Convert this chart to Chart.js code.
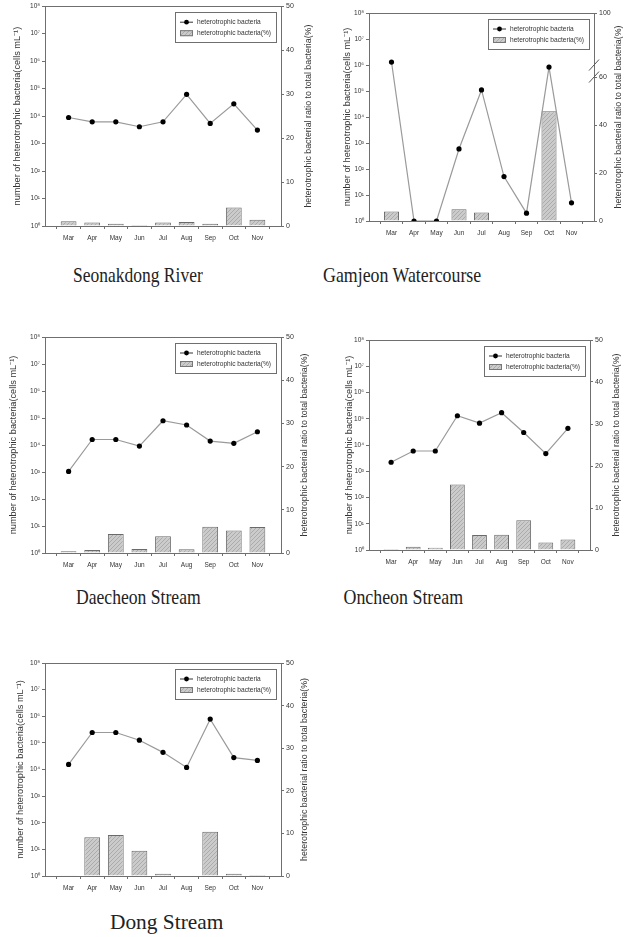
<!DOCTYPE html>
<html>
<head>
<meta charset="utf-8">
<script src="https://cdn.jsdelivr.net/npm/chart.js@4.4.0/dist/chart.umd.min.js"></script>
<style>
body { margin: 0; background: #fff; }
#page { position: relative; width: 628px; height: 937px; overflow: hidden; }
canvas { position: absolute; }
.cap { position: absolute; font-family: 'Liberation Serif', 'Times New Roman', serif; font-size: 21px; line-height: 21px; color: #222; white-space: nowrap; transform-origin: center; }
</style>
</head>
<body>
<div id="page"></div>
<script>
const months = ['Mar', 'Apr', 'May', 'Jun', 'Jul', 'Aug', 'Sep', 'Oct', 'Nov'];
const countLabel = 'heterotrophic bacteria';
const ratioLabel = 'heterotrophic bacteria(%)';
const leftTitle = 'number of heterotrophic bacteria(cells mL\u207B\u00B9)';
const rightTitle = 'heterotrophic bacterial ratio to total bacteria(%)';
const countTickExps = [0, 1, 2, 3, 4, 5, 6, 7, 8];
const ratioTicks = [0, 10, 20, 30, 40, 50];
const gamjeonRatioTicks = [0, 20, 40, 60, 100];
const siteNames = ['Seonakdong River', 'Gamjeon Watercourse', 'Daecheon Stream', 'Oncheon Stream', 'Dong Stream'];

// cells per mL (log axis) and % of total bacteria (bars)
const seonakdongCount = [8.9e3, 6.2e3, 6.2e3, 4.1e3, 6.2e3, 6.2e4, 5.4e3, 2.8e4, 3.1e3];
const seonakdongRatio = [1.1, 0.8, 0.5, 0.2, 0.8, 0.9, 0.5, 4.2, 1.4];
const gamjeonCount = [1.3e6, 1, 1, 5.9e2, 1.1e5, 51, 2, 8.3e5, 5];
const gamjeonRatio = [4.0, 0, 0, 4.9, 3.6, 0, 0, 45.9, 0];
const daecheonCount = [1.05e3, 1.6e4, 1.6e4, 9.1e3, 7.9e4, 5.5e4, 1.4e4, 1.15e4, 3.1e4];
const daecheonRatio = [0.4, 0.7, 4.4, 0.9, 3.9, 0.85, 6.1, 5.2, 6.0];
const oncheonCount = [2.2e3, 5.9e3, 5.9e3, 1.3e5, 6.8e4, 1.7e5, 3.0e4, 4.7e3, 4.3e4];
const oncheonRatio = [0.25, 0.8, 0.55, 15.6, 3.6, 3.65, 7.1, 1.8, 2.5];
const dongCount = [1.55e4, 2.45e5, 2.45e5, 1.26e5, 4.4e4, 1.2e4, 7.8e5, 2.8e4, 2.2e4];
const dongRatio = [0.2, 9.1, 9.6, 5.9, 0.5, 0, 10.4, 0.5, 0.25];

// broken right axis of the Gamjeon panel: 60..100 squeezed
const BREAK_AT = 60, BREAK_TOP = 100, BREAK_DRAWN = 87;
function squeeze(v) {
    return v <= BREAK_AT ? v : BREAK_AT + (v - BREAK_AT) * (BREAK_DRAWN - BREAK_AT) / (BREAK_TOP - BREAK_AT);
}

const AX = '#6f6f6f';
const TXT = '#333';
const SANS = "'Liberation Sans', Arial, sans-serif";
const SUP = { '0': '\u2070', '1': '\u00B9', '2': '\u00B2', '3': '\u00B3', '4': '\u2074', '5': '\u2075', '6': '\u2076', '7': '\u2077', '8': '\u2078', '9': '\u2079' };

// layout: canvas box and plot box in page px
const panels = [
    { count: seonakdongCount, ratio: seonakdongRatio, box: [0, 0, 314, 252], plot: [45, 6, 281, 226], lt: 17, rt: 5, cap: [138, 283, 130] },
    { count: gamjeonCount, ratio: gamjeonRatio, box: [314, 0, 314, 252], plot: [369, 13, 594, 221], lt: 33, rt: 9, cap: [402, 283, 158], broken: true },
    { count: daecheonCount, ratio: daecheonRatio, box: [0, 320, 314, 255], plot: [45, 337, 281, 553], lt: 13, rt: 9, cap: [138, 605, 125] },
    { count: oncheonCount, ratio: oncheonRatio, box: [314, 320, 314, 255], plot: [369, 340, 590, 550], lt: 35, rt: 11, cap: [403, 605, 120] },
    { count: dongCount, ratio: dongRatio, box: [0, 640, 314, 255], plot: [45, 663, 281, 876], lt: 20, rt: 9, cap: [166, 930, 113] }
];

function hatch(ctx) {
    const c = document.createElement('canvas');
    c.width = 4; c.height = 4;
    const g = c.getContext('2d');
    g.fillStyle = '#cbcbcb';
    g.fillRect(0, 0, 4, 4);
    g.strokeStyle = '#a2a2a2';
    g.lineWidth = 0.8;
    g.beginPath(); g.moveTo(0, 4); g.lineTo(4, 0); g.stroke();
    return ctx.createPattern(c, 'repeat');
}

const framePlugin = {
    id: 'frame',
    afterDatasetsDraw(chart) {
        const { ctx, chartArea: a } = chart;
        const opts = chart.options.plugins.frame;
        ctx.save();
        ctx.strokeStyle = AX;
        ctx.lineWidth = 1;
        ctx.strokeRect(Math.round(a.left) + 0.5, Math.round(a.top) + 0.5, Math.round(a.right - a.left), Math.round(a.bottom - a.top));

        // right axis title, read bottom to top
        ctx.save();
        ctx.translate(chart.width - opts.rt, (a.top + a.bottom) / 2);
        ctx.rotate(-Math.PI / 2);
        ctx.font = '8.8px ' + SANS;
        ctx.fillStyle = TXT;
        ctx.textAlign = 'center';
        ctx.textBaseline = 'middle';
        ctx.fillText(rightTitle, 0, 0);
        ctx.restore();

        // legend box inside the top right corner
        const w = 101, h = 30;
        const x = a.right - w - 5, y = a.top + 6;
        ctx.fillStyle = '#fff';
        ctx.fillRect(x, y, w, h);
        ctx.strokeRect(Math.round(x) + 0.5, Math.round(y) + 0.5, w, h);
        const ds = chart.data.datasets;
        const line = ds.find(d => d.type === 'line');
        const bar = ds.find(d => d.type === 'bar');
        ctx.font = '6.6px ' + SANS;
        ctx.textBaseline = 'middle';
        const r1 = y + 10, r2 = y + 21;
        ctx.strokeStyle = '#333';
        ctx.beginPath(); ctx.moveTo(x + 5, r1); ctx.lineTo(x + 18, r1); ctx.stroke();
        ctx.fillStyle = '#000';
        ctx.beginPath(); ctx.arc(x + 11.5, r1, 2.4, 0, Math.PI * 2); ctx.fill();
        ctx.fillStyle = TXT;
        ctx.fillText(line.label, x + 22, r1);
        ctx.fillStyle = bar.backgroundColor;
        ctx.fillRect(x + 5, r2 - 3, 13, 6);
        ctx.strokeStyle = '#777';
        ctx.strokeRect(x + 5.5, r2 - 2.5, 12, 5);
        ctx.fillStyle = TXT;
        ctx.fillText(bar.label, x + 22, r2);

        // axis break marks
        if (opts.broken) {
            const s = chart.scales.y1;
            const yb = s.getPixelForValue(BREAK_AT);
            ctx.strokeStyle = '#555';
            [yb, yb - 12].forEach(yy => {
                ctx.beginPath(); ctx.moveTo(a.right + 5, yy - 6); ctx.lineTo(a.right - 5, yy + 5); ctx.stroke();
            });
        }
        ctx.restore();
    }
};

const page = document.getElementById('page');

panels.forEach((p, k) => {
    const [bx, by, bw, bh] = p.box;
    const [pl, pt, pr, pb] = p.plot;
    const cv = document.createElement('canvas');
    cv.width = bw; cv.height = bh;
    cv.style.left = bx + 'px'; cv.style.top = by + 'px';
    page.appendChild(cv);
    const ctx = cv.getContext('2d');

    const rTicks = p.broken ? gamjeonRatioTicks : ratioTicks;
    const map = p.broken ? squeeze : (v => v);
    const tickFont = { family: SANS, size: 6.5 };
    const titleFont = { family: SANS, size: 9.2, lineHeight: 1 };

    new Chart(ctx, {
        type: 'bar',
        data: {
            datasets: [
                {
                    type: 'line',
                    label: countLabel,
                    data: p.count.map((v, i) => ({ x: i, y: v })),
                    yAxisID: 'y',
                    borderColor: '#9a9a9a',
                    borderWidth: 1.2,
                    pointRadius: 2.6,
                    pointBackgroundColor: '#000',
                    pointBorderColor: '#000',
                    pointBorderWidth: 0,
                    order: 0
                },
                {
                    type: 'bar',
                    label: ratioLabel,
                    data: p.ratio.map((v, i) => ({ x: i, y: map(v) })),
                    yAxisID: 'y1',
                    backgroundColor: hatch(ctx),
                    borderColor: '#6a6a6a',
                    borderWidth: 1,
                    borderSkipped: 'start',
                    categoryPercentage: 1,
                    barPercentage: 0.67,
                    order: 1
                }
            ]
        },
        options: {
            responsive: false,
            animation: false,
            layout: { padding: { top: pt - by, left: 0, right: 0, bottom: 0 } },
            plugins: {
                legend: { display: false },
                tooltip: { enabled: false },
                frame: { broken: !!p.broken, rt: p.rt }
            },
            scales: {
                x: {
                    type: 'linear',
                    min: -1,
                    max: 9,
                    offset: false,
                    afterBuildTicks: s => { s.ticks = months.map((m, i) => ({ value: i })); },
                    afterFit: s => { s.height = by + bh - pb; },
                    ticks: { callback: v => months[v], font: tickFont, color: TXT, padding: 5, maxRotation: 0, autoSkip: false },
                    grid: { display: true, drawOnChartArea: false, tickLength: 3, color: AX },
                    border: { color: AX }
                },
                y: {
                    type: 'logarithmic',
                    position: 'left',
                    min: 1,
                    max: 1e8,
                    afterBuildTicks: s => { s.ticks = countTickExps.map(e => ({ value: Math.pow(10, e) })); },
                    afterFit: s => { s.width = pl - bx; },
                    ticks: { callback: (v, i) => '10' + SUP[String(countTickExps[i])], font: tickFont, color: TXT, padding: 2, autoSkip: false },
                    grid: { display: true, drawOnChartArea: false, tickLength: 3, color: AX },
                    border: { color: AX },
                    title: { display: true, text: leftTitle, font: titleFont, color: TXT, padding: { top: p.lt - 4.6, bottom: 0 } }
                },
                y1: {
                    type: 'linear',
                    position: 'right',
                    min: 0,
                    max: map(rTicks[rTicks.length - 1]),
                    afterBuildTicks: s => { s.ticks = rTicks.map(v => ({ value: map(v) })); },
                    afterFit: s => { s.width = bx + bw - pr; },
                    ticks: { callback: (v, i) => String(rTicks[i]), font: { family: SANS, size: 7 }, color: TXT, padding: 2, autoSkip: false },
                    grid: { display: true, drawOnChartArea: false, tickLength: 3, color: AX },
                    border: { color: AX }
                }
            }
        },
        plugins: [framePlugin]
    });

    // caption under the panel
    const [cx, base, tw] = p.cap;
    const el = document.createElement('div');
    el.className = 'cap';
    el.textContent = siteNames[k];
    page.appendChild(el);
    const nat = el.offsetWidth;
    el.style.left = (cx - nat / 2) + 'px';
    el.style.top = (base - 17.6) + 'px';
    el.style.transform = 'scaleX(' + (tw / nat).toFixed(3) + ')';
});
</script>
</body>
</html>
